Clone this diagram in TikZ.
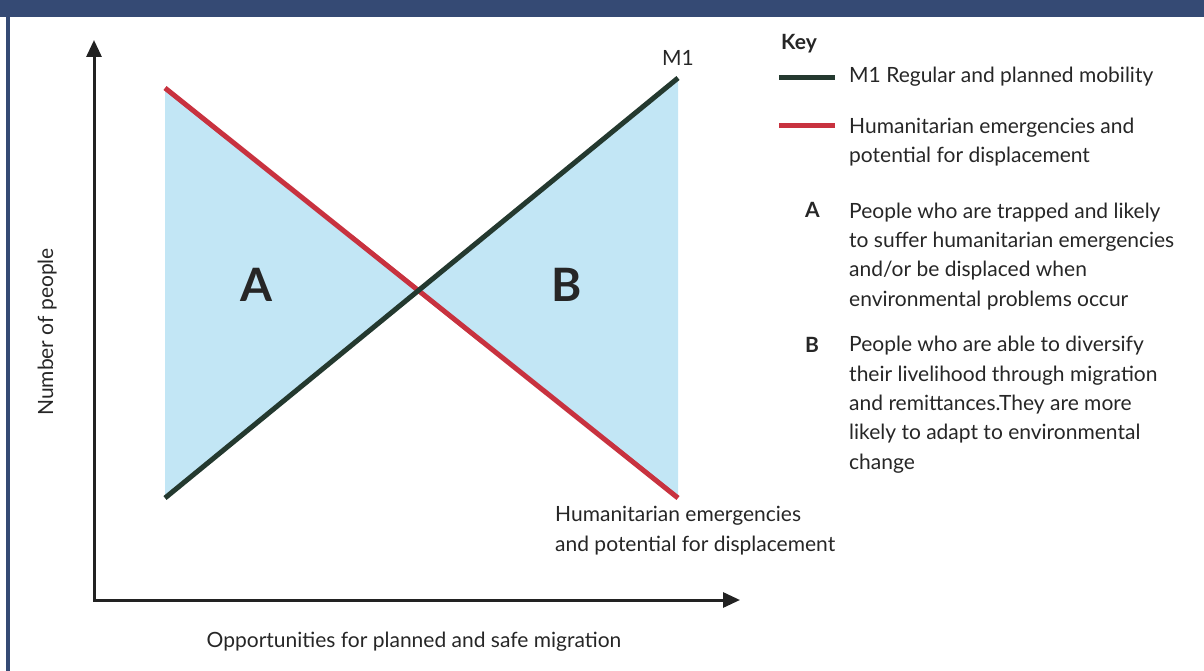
\documentclass[tikz,border=0pt]{standalone}
\usepackage{fontspec}
\setmainfont{Lato}
\usepackage{tikz}
\usetikzlibrary{arrows.meta,calc,positioning}
\definecolor{bannerblue}{HTML}{354A74}
\definecolor{mgreen}{HTML}{24392F}
\definecolor{hred}{HTML}{C8323F}
\definecolor{zoneblue}{HTML}{C2E6F5}
\definecolor{axisgrey}{HTML}{222222}
\tikzset{
	people plot/.style={x=1pt, y=-1pt},
	axis/.style={draw=axisgrey, line width=3pt,
		{Triangle[length=17pt,width=15pt]}-{Triangle[length=17pt,width=15pt]}},
	m1 line/.style={draw=mgreen, line width=5pt},
	hum line/.style={draw=hred, line width=5pt},
	zone/.style={fill=zoneblue},
	txt/.style={inner sep=0pt, text=black!85, font=\fontsize{21}{29.3}\selectfont},
	% multi-line nodes: base = baseline of the last line
	key/.style={txt, anchor=base west, align=left},
	key letter/.style={key, font=\fontsize{21}{29.3}\selectfont\bfseries},
	zone label/.style={inner sep=0pt, text=black!85, font=\fontsize{46}{46}\selectfont\bfseries}
}

\begin{document}
\begin{tikzpicture}[people plot]
	\useasboundingbox (0,0) rectangle (1204,671);
	% frame
	\fill[bannerblue] (0,0) rectangle (1204,17);
	\fill[bannerblue] (6,17) rectangle (10,671);
	% curve ends
	\coordinate (hum start) at (165,88);
	\coordinate (hum end) at (678,498);
	\coordinate (m1 start) at (165,498);
	\coordinate (m1 end) at (678,78);
	\coordinate (cross) at (418,290);
	\fill[zone] (hum start) -- (cross) -- (m1 start) -- cycle;
	\fill[zone] (m1 end) -- (cross) -- (hum end) -- cycle;
	\draw[hum line] (hum start) -- (hum end);
	\draw[m1 line] (m1 start) -- (m1 end);
	% axes
	\coordinate (y tip) at (94,40);
	\coordinate (x tip) at (740,600);
	\draw[axis] (y tip) |- (x tip);
	\node[zone label] (zone A) at (256,285) {A};
	\node[zone label] (zone B) at (567,285) {B};
	\node[txt, anchor=base] (m1 label) at (678,66) {M1};
	\node[key] (hum label) at (555,551) {Humanitarian emergencies\\and potential for displacement};
	\node[txt, anchor=base] (x title) at (414,647) {Opportunities for planned and safe migration};
	\node[txt, rotate=90, anchor=base] (y title) at (53,332) {Number of people};
	% key
	\node[key letter] (key title) at (781,50) {Key};
	\coordinate (m1 key a) at (779,78);
	\coordinate (m1 key b) at (835,78);
	\draw[m1 line] (m1 key a) -- (m1 key b);
	\node[key] (m1 key) at (849,83) {M1 Regular and planned mobility};
	\coordinate (hum key a) at (779,126);
	\coordinate (hum key b) at (835,126);
	\draw[hum line] (hum key a) -- (hum key b);
	\node[key] (hum key) at (849,163) {Humanitarian emergencies and\\potential for displacement};
	\node[key letter] (A key) at (805,218) {A};
	\node[key] (A text) at (849,306) {People who are trapped and likely\\to suffer humanitarian emergencies\\and/or be displaced when\\environmental problems occur};
	\node[key letter] (B key) at (805,352) {B};
	\node[key] (B text) at (849,469) {People who are able to diversify\\their livelihood through migration\\and remittances.They are more\\likely to adapt to environmental\\change};
\end{tikzpicture}
\end{document}
